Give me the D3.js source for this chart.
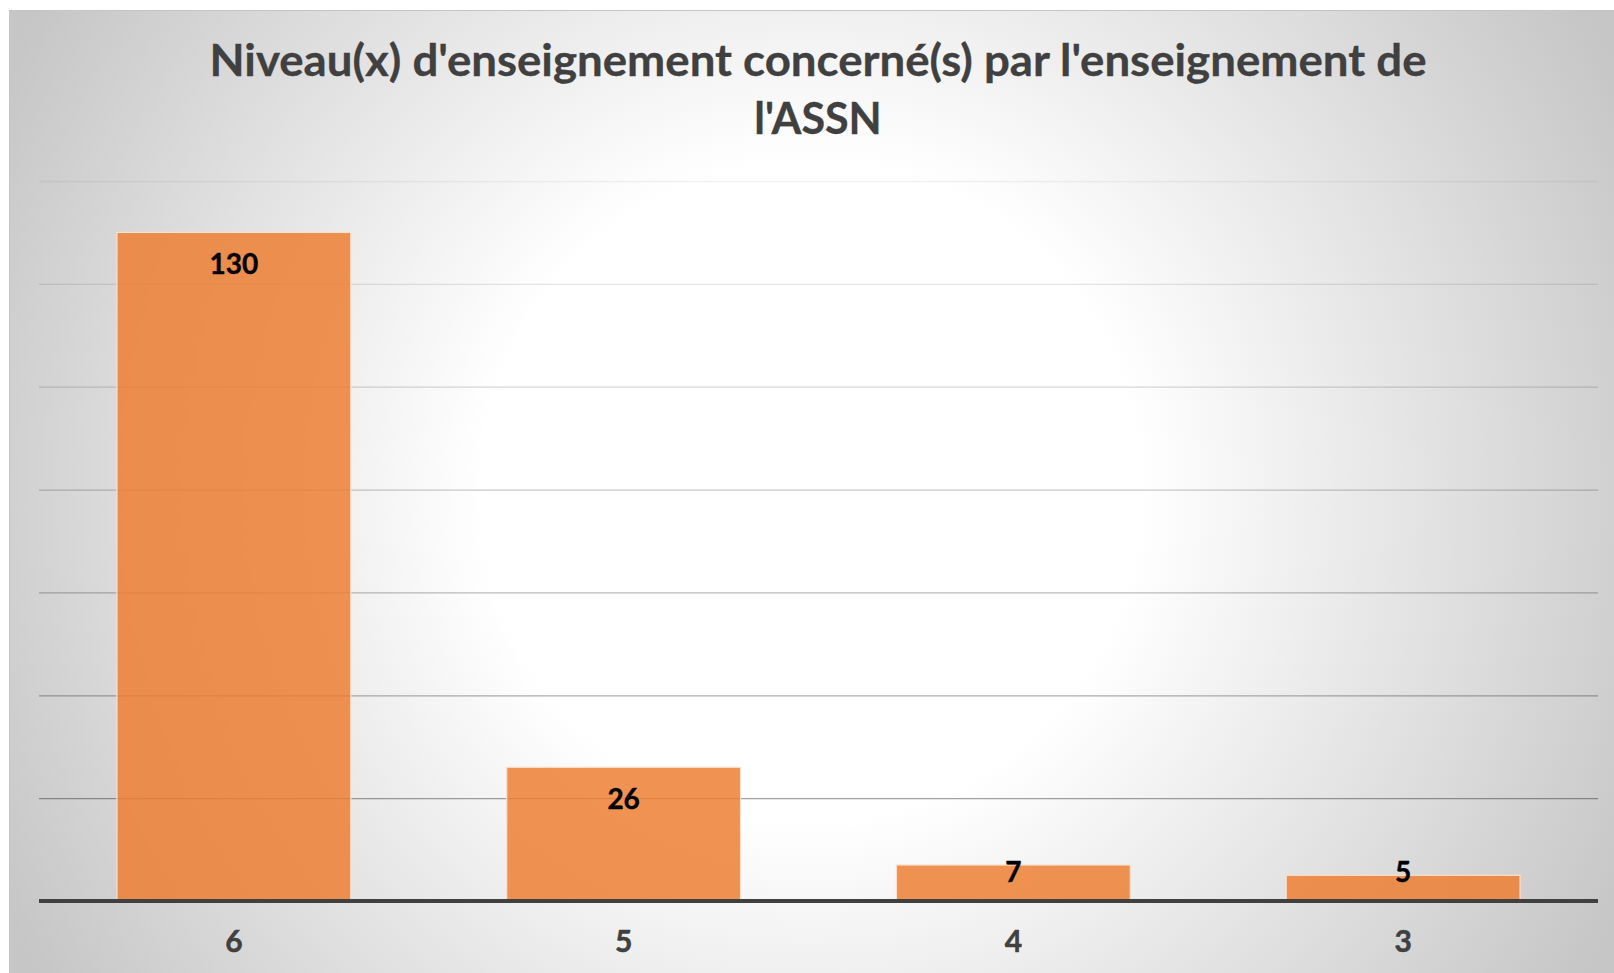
<!DOCTYPE html>
<meta charset="utf-8">
<head>
  <title>Niveau(x) d'enseignement</title>
</head>
<style>
  body { margin: 0; background: #fff; }
  svg { display: block; font-family: Lato, "Open Sans", "DejaVu Sans", sans-serif; }
</style>
<body>
<svg width="1614" height="973"></svg>
<script src="https://cdnjs.cloudflare.com/ajax/libs/d3/7.8.5/d3.min.js"></script>
<script>

var niveaux = ["6", "5", "4", "3"];
var reponses = [130, 26, 7, 5];
var titleLines = ["Niveau(x) d'enseignement concerné(s) par l'enseignement de", "l'ASSN"];
var gridTicks = [0, 20, 40, 60, 80, 100, 120, 140];

var svg = d3.select("svg");
var defs = svg.append("defs");

// radial background, white in the middle going grey to the corners
var bg = defs.append("radialGradient")
  .attr("id", "bg")
  .attr("gradientUnits", "userSpaceOnUse")
  .attr("cx", 811).attr("cy", 491).attr("r", 910);
bg.append("stop").attr("offset", 0).attr("stop-color", "#ffffff");
bg.append("stop").attr("offset", 0.36).attr("stop-color", "#ffffff");
bg.append("stop").attr("offset", 0.82).attr("stop-color", "#d6d6d6");
bg.append("stop").attr("offset", 1).attr("stop-color", "#c6c6c6");

// gridlines get darker toward the bottom
var gg = defs.append("linearGradient")
  .attr("id", "grid")
  .attr("gradientUnits", "userSpaceOnUse")
  .attr("x1", 0).attr("y1", 181).attr("x2", 0).attr("y2", 901);
gg.append("stop").attr("offset", 0).attr("stop-color", "#000").attr("stop-opacity", 0.05);
gg.append("stop").attr("offset", 1).attr("stop-color", "#000").attr("stop-opacity", 0.42);

svg.append("rect")
  .attr("x", 9.5).attr("y", 10.5)
  .attr("width", 1620).attr("height", 980)
  .attr("fill", "url(#bg)")
  .attr("stroke", "#c4c4c4");

var x = d3.scaleBand()
  .domain(niveaux)
  .range([39, 1598])
  .paddingInner(0.4)
  .paddingOuter(0.2);

var y = d3.scaleLinear()
  .domain([0, 140])
  .range([901, 181]);

// gridlines
svg.append("g")
  .selectAll("line")
  .data(gridTicks.slice(1))
  .enter()
  .append("line")
  .attr("x1", 39).attr("x2", 1598)
  .attr("y1", function(d) { return y(d) + 0.5; })
  .attr("y2", function(d) { return y(d) + 0.5; })
  .attr("stroke", "url(#grid)")
  .attr("stroke-width", 1.3);

// bars
svg.append("g")
  .selectAll("rect")
  .data(reponses)
  .enter()
  .append("rect")
  .attr("x", function(d, i) { return x(niveaux[i]); })
  .attr("y", function(d) { return y(d); })
  .attr("width", x.bandwidth())
  .attr("height", function(d) { return y(0) - y(d); })
  .attr("fill", "#ed7d31")
  .attr("fill-opacity", 0.84)
  .attr("stroke", "#fbe0cc")
  .attr("stroke-width", 1.2);

// axis line
var xAxis = svg.append("g")
  .attr("transform", "translate(0," + y(0) + ")")
  .call(d3.axisBottom(x).tickSize(0).tickPadding(36));
xAxis.select(".domain")
  .attr("d", "M39,0H1598")
  .attr("stroke", "#404040")
  .attr("stroke-width", 4);
xAxis.selectAll(".tick text")
  .attr("fill", "#404040")
  .attr("stroke", "#404040")
  .attr("stroke-width", 0.5)
  .attr("font-family", "Lato, 'Open Sans', sans-serif")
  .attr("font-size", 30)
  .attr("font-weight", "bold")
  .attr("dy", "0.5em");

// data labels
svg.append("g")
  .selectAll("text")
  .data(reponses)
  .enter()
  .append("text")
  .attr("x", function(d, i) { return x(niveaux[i]) + x.bandwidth() / 2; })
  .attr("y", function(d) { return Math.min(y(d) + 42, y(0) - 19); })
  .attr("text-anchor", "middle")
  .attr("font-size", 28)
  .attr("font-weight", "bold")
  .attr("fill", "#000")
  .attr("stroke", "#000")
  .attr("stroke-width", 0.4)
  .text(function(d) { return d; });

// title
var title = svg.append("g")
  .selectAll("text")
  .data(titleLines)
  .enter()
  .append("text")
  .attr("x", 818)
  .attr("y", function(d, i) { return 76 + i * 58; })
  .attr("text-anchor", "middle")
  .attr("font-size", 43)
  .attr("font-weight", "bold")
  .attr("fill", "#404040")
  .attr("stroke", "#404040")
  .attr("stroke-width", 0.3)
  .text(function(d) { return d; });

// squeeze the long line to the width it has in the original
var first = title.filter(function(d, i) { return i == 0; });
var w = first.node().getComputedTextLength();
if (Math.abs(w - 1217) > 6) {
  first.attr("textLength", 1217).attr("lengthAdjust", "spacingAndGlyphs");
}

</script>
</body>
</html>
